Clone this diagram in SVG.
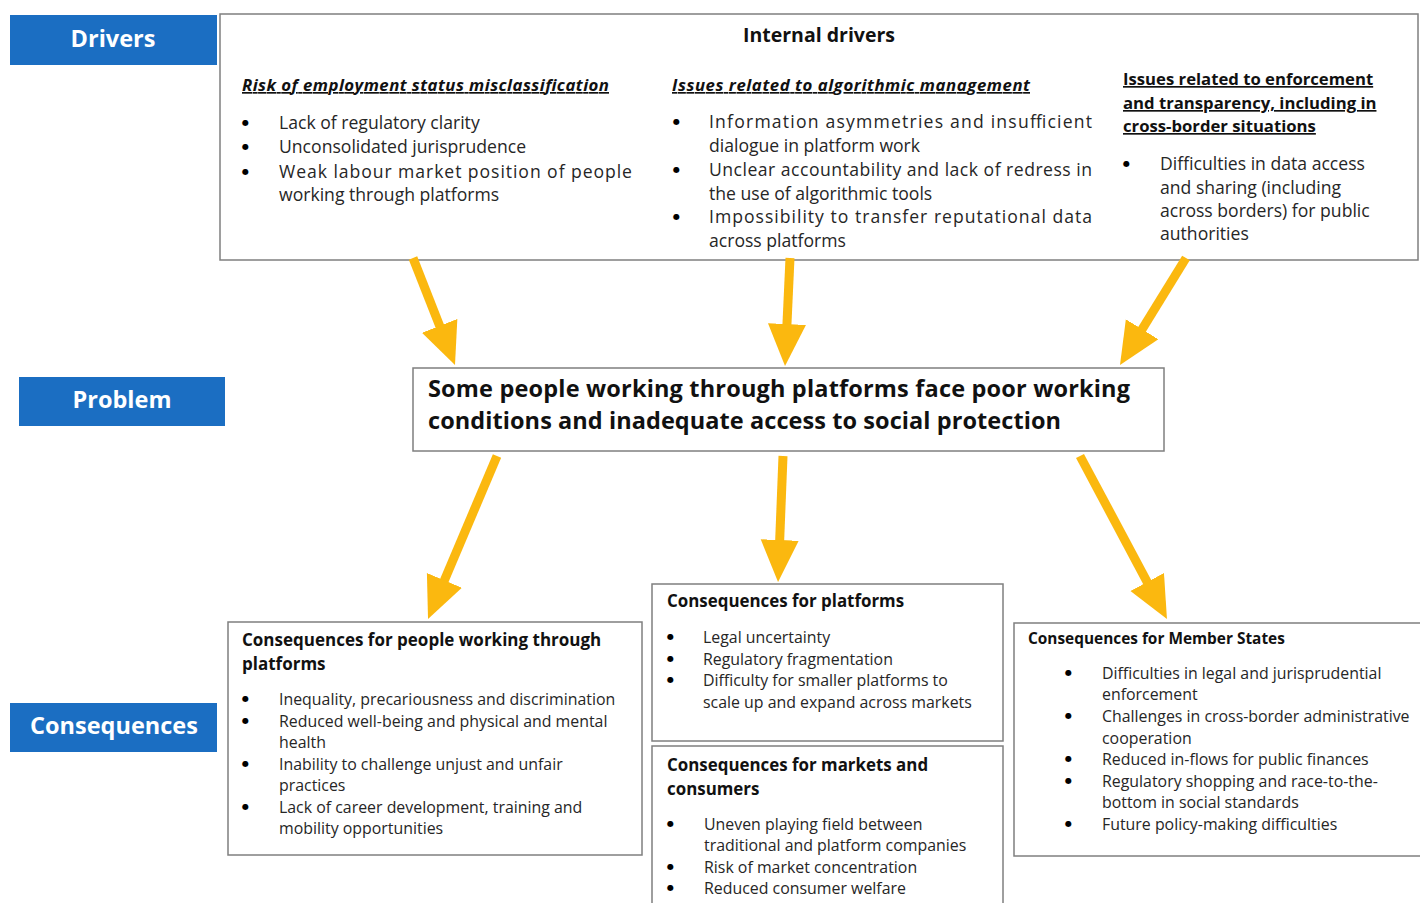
<svg xmlns="http://www.w3.org/2000/svg" width="1420" height="903" viewBox="0 0 1420 903">
<style>
.lbl{fill:#1b6ec2}
.lt{font-family:"Open Sans","Liberation Sans",sans-serif;font-weight:700;fill:#fff;text-anchor:middle;font-size:23.5px}
.box{fill:#fff;stroke:#7f7f7f;stroke-width:1.5}
.t{font-family:"Open Sans","Liberation Sans",sans-serif;fill:#262626}
.b{font-weight:700;fill:#111}
.d{font-size:17.6px}
.c{font-size:15.9px}
.u{text-decoration:underline}
.i{font-style:italic}
.bu{font-family:"DejaVu Sans",sans-serif;font-size:8px;fill:#000}
.arr{stroke:#fbb80f;stroke-width:9;fill:none;marker-end:url(#ah)}
</style>
<defs>
<marker id="ah" markerUnits="userSpaceOnUse" markerWidth="44" markerHeight="40" refX="10" refY="19" orient="auto">
<path d="M0,0 L42,19 L0,38 Z" fill="#fbb80f"/>
</marker>
</defs>
<rect width="1420" height="903" fill="#fff"/>

<g id="label-drivers"><rect class="lbl" x="10" y="15" width="207" height="50"/><text class="lt" x="113" y="47">Drivers</text></g>
<g id="label-problem"><rect class="lbl" x="19" y="377" width="206" height="49"/><text class="lt" x="122" y="408">Problem</text></g>
<g id="label-consequences"><rect class="lbl" x="10" y="703" width="207" height="49"/><text class="lt" x="114" y="734">Consequences</text></g>

<g id="internal-drivers">
<rect class="box" x="220" y="14" width="1198" height="246"/>
<text class="t b" x="819" y="42" font-size="19.5" text-anchor="middle">Internal drivers</text>
<g class="t d">
<text class="b i u" x="242" y="91" font-size="16.8" textLength="367">Risk of employment status misclassification</text>
<text class="bu" x="242" y="125">●</text><text x="279" y="129">Lack of regulatory clarity</text>
<text class="bu" x="242" y="149">●</text><text x="279" y="153">Unconsolidated jurisprudence</text>
<text class="bu" x="242" y="174">●</text><text x="279" y="178" textLength="353" lengthAdjust="spacing">Weak labour market position of people</text>
<text x="279" y="201">working through platforms</text>

<text class="b i u" x="672" y="91" font-size="16.8" textLength="358">Issues related to algorithmic management</text>
<text class="bu" x="673" y="124">●</text><text x="709" y="128" textLength="383" lengthAdjust="spacing">Information asymmetries and insufficient</text>
<text x="709" y="152">dialogue in platform work</text>
<text class="bu" x="673" y="172">●</text><text x="709" y="176" textLength="383" lengthAdjust="spacing">Unclear accountability and lack of redress in</text>
<text x="709" y="200">the use of algorithmic tools</text>
<text class="bu" x="673" y="219">●</text><text x="709" y="223" textLength="383" lengthAdjust="spacing">Impossibility to transfer reputational data</text>
<text x="709" y="247">across platforms</text>

<text class="b u" x="1123" y="85" font-size="16.7">Issues related to enforcement</text>
<text class="b u" x="1123" y="109" font-size="16.7">and transparency, including in</text>
<text class="b u" x="1123" y="132" font-size="16.7">cross-border situations</text>
<text class="bu" x="1123" y="166">●</text><text x="1160" y="170">Difficulties in data access</text>
<text x="1160" y="194">and sharing (including</text>
<text x="1160" y="217">across borders) for public</text>
<text x="1160" y="240">authorities</text>
</g>
</g>

<g id="problem">
<rect class="box" x="413" y="368" width="751" height="83"/>
<text class="t b" x="428" y="397" font-size="23.5" textLength="702">Some people working through platforms face poor working</text>
<text class="t b" x="428" y="429" font-size="23.5" textLength="633">conditions and inadequate access to social protection</text>
</g>

<g id="cons-people">
<rect class="box" x="228" y="622" width="414" height="233"/>
<g class="t c">
<text class="b" x="242" y="646" font-size="17">Consequences for people working through</text>
<text class="b" x="242" y="670" font-size="17">platforms</text>
<text class="bu" x="242" y="701">●</text><text x="279" y="705">Inequality, precariousness and discrimination</text>
<text class="bu" x="242" y="723">●</text><text x="279" y="727">Reduced well-being and physical and mental</text>
<text x="279" y="748">health</text>
<text class="bu" x="242" y="766">●</text><text x="279" y="770">Inability to challenge unjust and unfair</text>
<text x="279" y="791">practices</text>
<text class="bu" x="242" y="809">●</text><text x="279" y="813">Lack of career development, training and</text>
<text x="279" y="834">mobility opportunities</text>
</g>
</g>

<g id="cons-platforms">
<rect class="box" x="652" y="584" width="351" height="157"/>
<g class="t c">
<text class="b" x="667" y="607" font-size="16.9">Consequences for platforms</text>
<text class="bu" x="667" y="639">●</text><text x="703" y="643">Legal uncertainty</text>
<text class="bu" x="667" y="661">●</text><text x="703" y="665">Regulatory fragmentation</text>
<text class="bu" x="667" y="682">●</text><text x="703" y="686">Difficulty for smaller platforms to</text>
<text x="703" y="708">scale up and expand across markets</text>
</g>
</g>

<g id="cons-markets">
<rect class="box" x="652" y="746" width="351" height="170"/>
<g class="t c">
<text class="b" x="667" y="771" font-size="16.9">Consequences for markets and</text>
<text class="b" x="667" y="795" font-size="16.9">consumers</text>
<text class="bu" x="667" y="826">●</text><text x="704" y="830">Uneven playing field between</text>
<text x="704" y="851">traditional and platform companies</text>
<text class="bu" x="667" y="869">●</text><text x="704" y="873">Risk of market concentration</text>
<text class="bu" x="667" y="890">●</text><text x="704" y="894">Reduced consumer welfare</text>
</g>
</g>

<g id="cons-member-states">
<rect class="box" x="1014" y="623" width="410" height="233"/>
<g class="t c">
<text class="b" x="1028" y="644" font-size="15.4">Consequences for Member States</text>
<text class="bu" x="1065" y="675">●</text><text x="1102" y="679">Difficulties in legal and jurisprudential</text>
<text x="1102" y="700">enforcement</text>
<text class="bu" x="1065" y="718">●</text><text x="1102" y="722">Challenges in cross-border administrative</text>
<text x="1102" y="744">cooperation</text>
<text class="bu" x="1065" y="761">●</text><text x="1102" y="765">Reduced in-flows for public finances</text>
<text class="bu" x="1065" y="783">●</text><text x="1102" y="787">Regulatory shopping and race-to-the-</text>
<text x="1102" y="808">bottom in social standards</text>
<text class="bu" x="1065" y="826">●</text><text x="1102" y="830">Future policy-making difficulties</text>
</g>
</g>

<g id="connectors">
<line class="arr" x1="413" y1="258" x2="443.3" y2="335.2"/>
<line class="arr" x1="790" y1="258" x2="786.5" y2="334"/>
<line class="arr" x1="1186" y1="258" x2="1136.8" y2="337.8"/>
<line class="arr" x1="497" y1="456" x2="440.5" y2="589.5"/>
<line class="arr" x1="783" y1="456" x2="779.3" y2="550"/>
<line class="arr" x1="1080" y1="456" x2="1151.9" y2="590.8"/>
</g>
</svg>
